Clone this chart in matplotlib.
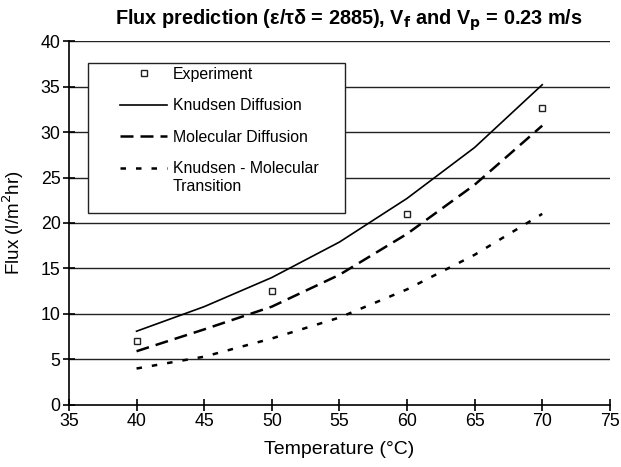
import numpy as np
import matplotlib
matplotlib.use('Agg')
import matplotlib.pyplot as plt
from matplotlib.patches import Rectangle

plt.rcParams['font.family'] = ['Liberation Sans', 'DejaVu Sans']

# experiment points
t_exp = [40, 50, 60, 70]
flux_exp = [7.0, 12.5, 21.0, 32.6]

# model curves
t_model = [40, 45, 50, 55, 60, 65, 70]
knudsen = [8.1, 10.8, 14.0, 17.9, 22.7, 28.3, 35.2]
molecular = [5.9, 8.3, 10.8, 14.3, 18.8, 24.2, 30.7]
transition = [4.0, 5.3, 7.3, 9.6, 12.7, 16.5, 21.0]

fig = plt.figure(figsize=(6.21, 4.67), dpi=100)
ax = fig.add_axes([0.111, 0.133, 0.871, 0.779])

for y in range(5, 45, 5):
    ax.axhline(y, color='#222222', lw=1.0, zorder=1)

ax.plot(t_exp, flux_exp, 's', ms=5, mfc='white', mec='#222222', mew=1.0,
        ls='none', label='Experiment', zorder=4)
ax.plot(t_model, knudsen, '-', color='black', lw=1.2, label='Knudsen Diffusion', zorder=3)
ax.plot(t_model, molecular, color='black', lw=1.8, dashes=(5.2, 2.8),
        label='Molecular Diffusion', zorder=3)
ax.plot(t_model, transition, color='black', lw=1.8, dashes=(2.2, 4),
        label='Knudsen - Molecular', zorder=3)

ax.set_xlim(35, 75)
ax.set_ylim(0, 40)
ax.set_xticks(np.arange(35, 80, 5))
ax.set_yticks(np.arange(0, 45, 5))
ax.spines['top'].set_visible(False)
ax.spines['right'].set_visible(False)
ax.spines['left'].set_linewidth(1.2)
ax.spines['bottom'].set_linewidth(1.2)
ax.tick_params(direction='inout', length=8, width=1.2, labelsize=12.8, pad=2)
ax.set_xlabel('Temperature (°C)', fontsize=14)
ax.xaxis.set_label_coords(0.5, -0.098)
ax.set_ylabel('Flux (l/m$^2$hr)', fontsize=13.5)
ax.yaxis.set_label_coords(-0.08, 0.5)

# legend frame drawn by hand (wider than the entries)
ax.add_patch(Rectangle((0.035, 0.527), 0.475, 0.412, transform=ax.transAxes,
                       facecolor='white', edgecolor='#222222', lw=1.0, zorder=5))
leg = ax.legend(loc='upper left', bbox_to_anchor=(0.094, 0.93), frameon=False,
                fontsize=11.4, handlelength=3.0, handletextpad=0.35,
                labelspacing=1.05, borderpad=0, borderaxespad=0)
leg.set_zorder(6)

# second line of the last legend label, aligned under its first line
fig.canvas.draw()
last = leg.get_texts()[-1]
bb = last.get_window_extent().transformed(fig.transFigure.inverted())
fig.text(bb.x0, bb.y0 - 0.006, 'Transition', fontsize=11.4, ha='left', va='top',
         zorder=7)

fig.text(0.939, 0.957,
         'Flux prediction (ε/τδ = 2885), V$_\\mathbf{f}$ and V$_\\mathbf{p}$ = 0.23 m/s',
         ha='right', va='center', fontsize=14.3, fontweight='bold')

fig.savefig('out.png', dpi=100)
